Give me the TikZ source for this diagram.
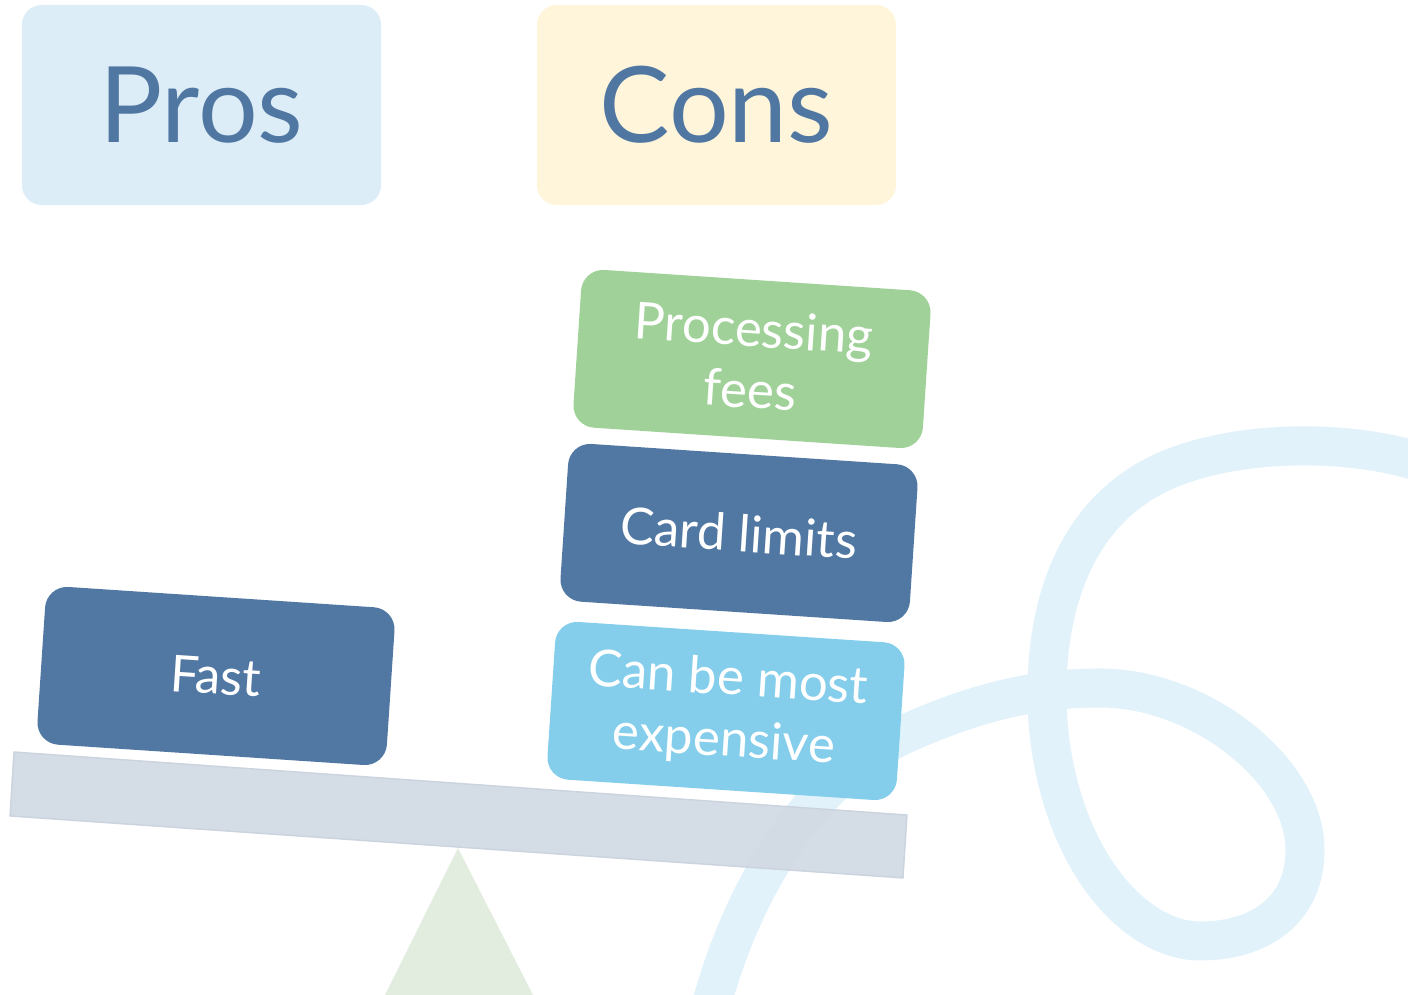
\documentclass[tikz,border=0pt]{standalone}
\usepackage{fontspec}
\setmainfont{Lato}
\definecolor{prosbg}{HTML}{DCEDF7}
\definecolor{consbg}{HTML}{FEF5DB}
\definecolor{inkblue}{HTML}{5076A2}
\definecolor{feesgreen}{HTML}{A0D199}
\definecolor{limitblue}{HTML}{5177A3}
\definecolor{costblue}{HTML}{84CEEC}
\definecolor{beamgray}{HTML}{D1D9E3}
\definecolor{beamedge}{HTML}{CAD2DE}
\definecolor{fulcrumgreen}{HTML}{E2EDE0}
\definecolor{swirlblue}{HTML}{E1F2FA}

\begin{document}
\begin{tikzpicture}[x=0.01cm,y=-0.01cm,
    header/.style={rounded corners=0.2cm,minimum width=3.59cm,minimum height=2cm,
      text=inkblue,font=\fontsize{30}{36}\selectfont},
    weight/.style={rounded corners=0.22cm,minimum width=3.5cm,minimum height=1.58cm,
      rotate=-3.8,text=white,align=center,font=\fontsize{14.5}{17.5}\selectfont}]
  \useasboundingbox (0,0) rectangle (1408,995);

  \draw[swirlblue,line width=0.39cm]
    (705,1030) .. controls (740,880) and (818,774) .. (903,735)
    .. controls (980,700) and (1040,688) .. (1100,688)
    .. controls (1200,688) and (1305,770) .. (1305,850)
    .. controls (1305,910) and (1260,941) .. (1200,941)
    .. controls (1135,941) and (1060,860) .. (1048,723)
    .. controls (1040,600) and (1080,500) .. (1180,465)
    .. controls (1250,440) and (1350,440) .. (1420,462);

  \fill[fulcrumgreen] (458,848) -- (533,995) -- (385,995) -- cycle;
  \filldraw[fill=beamgray,draw=beamedge,line width=0.4pt,opacity=0.93]
    (14,752) -- (907,815) -- (903,878) -- (10,816) -- cycle;

  \node[header,fill=prosbg] (pros) at (201.5,105) {Pros};
  \node[header,fill=consbg] (cons) at (716.5,105) {Cons};

  \node[weight,fill=limitblue] (fast) at (216,676) {Fast};
  \node[weight,fill=feesgreen] (fees) at (752,359) {Processing\\fees};
  \node[weight,fill=limitblue] (limits) at (739,533) {Card limits};
  \node[weight,fill=costblue] (cost) at (726,711) {Can be most\\expensive};
\end{tikzpicture}
\end{document}
